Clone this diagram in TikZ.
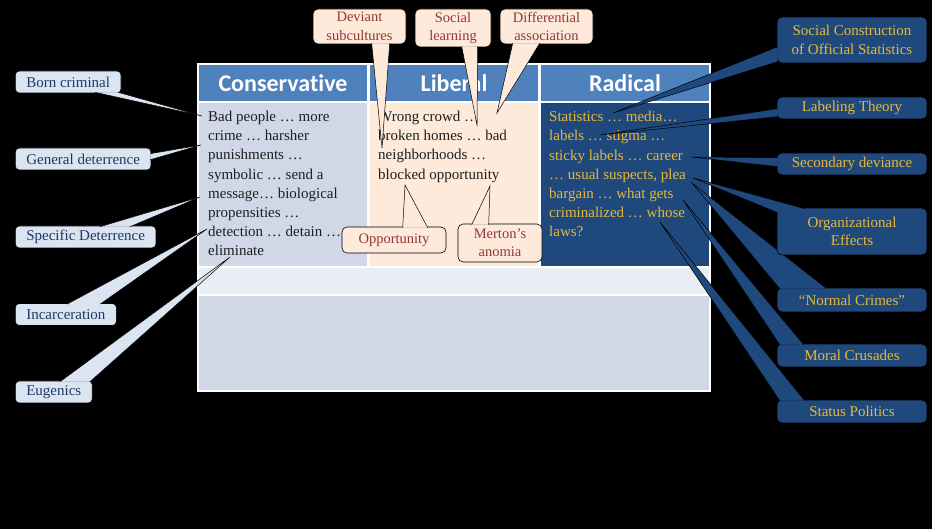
\documentclass[tikz,border=0pt]{standalone}
\usepackage{fontspec}
\setmainfont{Liberation Serif}
\newfontfamily\headfont{Carlito}[Ligatures=NoCommon]
\usetikzlibrary{positioning}

\definecolor{headblue}{RGB}{79,129,189}
\definecolor{consfill}{RGB}{208,216,232}
\definecolor{libfill}{RGB}{253,234,218}
\definecolor{radfill}{RGB}{31,73,125}
\definecolor{midfill}{RGB}{233,237,244}
\definecolor{leftfill}{RGB}{219,229,241}
\definecolor{leftink}{RGB}{31,56,100}
\definecolor{peachink}{RGB}{149,55,53}
\definecolor{goldink}{RGB}{230,184,56}
\definecolor{bodyink}{RGB}{30,30,30}

% callout pointer: base a, base b, tip
\newcommand{\calloutwedge}[4]{\filldraw[wedge, fill=#1] (#2) -- (#4) -- (#3);}

\begin{document}
\begin{tikzpicture}[x=1pt, y=1pt,
        head/.style={rectangle, fill=headblue, text=white, font=\headfont\bfseries\fontsize{24}{28}\selectfont, minimum width=168pt, minimum height=36pt, inner sep=0pt, outer sep=0pt},
        cell/.style={rectangle, minimum width=168pt, minimum height=163pt, inner sep=0pt, outer sep=0pt},
        row/.style={rectangle, minimum width=510pt, inner sep=0pt, outer sep=0pt},
        body/.style={anchor=north west, align=left, inner sep=0pt, font=\fontsize{15}{19.2}\selectfont},
        lcall/.style={rectangle, rounded corners=4pt, draw=black, line width=0.6pt, fill=leftfill, text=leftink, anchor=west, inner xsep=11pt, inner ysep=0pt, minimum height=22pt, font=\fontsize{15}{18}\selectfont},
        pcall/.style={rectangle, rounded corners=5pt, draw=black, line width=0.6pt, fill=libfill, text=peachink, align=center, inner xsep=4pt, inner ysep=1pt, font=\fontsize{14.5}{18.5}\selectfont},
        rcall/.style={rectangle, rounded corners=5pt, draw=black, line width=0.6pt, fill=radfill, text=goldink, align=center, inner sep=2pt, minimum width=150pt, minimum height=22pt, font=\fontsize{15}{18.3}\selectfont},
        wedge/.style={draw=black, line width=0.5pt}]

    \useasboundingbox (0,0) rectangle (932,529);
    \fill[black] (0,0) rectangle (932,529);

    % Table
    \fill[white] (197,137) rectangle (711,466);
    \node (consHead) [head] at (283,446) {Conservative};
    \node (libHead) [head, right=3pt of consHead] {Liberal};
    \node (radHead) [head, right=3pt of libHead] {Radical};

    \node (consCell) [cell, fill=consfill, below=2pt of consHead] {};
    \node (libCell) [cell, fill=libfill, below=2pt of libHead] {};
    \node (radCell) [cell, fill=radfill, below=2pt of radHead] {};
    \node (midRow) [row, fill=midfill, minimum height=26pt, below=2pt of libCell] {};
    \node (lowRow) [row, fill=consfill, minimum height=94pt, below=2pt of midRow] {};

    \node (consText) [body, text=bodyink] at ([xshift=9pt, yshift=-8pt]consCell.north west)
        {Bad people … more\\crime … harsher\\punishments …\\symbolic … send a\\message… biological\\propensities …\\detection … detain …\\eliminate};
    \node (libText) [body, text=bodyink] at ([xshift=8pt, yshift=-8pt]libCell.north west)
        {Wrong crowd …\\broken homes … bad\\neighborhoods …\\blocked opportunity};
    \node (radText) [body, text=goldink] at ([xshift=8pt, yshift=-8pt]radCell.north west)
        {Statistics … media…\\labels … stigma …\\sticky labels … career\\… usual suspects, plea\\bargain … what gets\\criminalized … whose\\laws?};

    % Pointer tips
    \coordinate (tBorn) at (202,413);
    \coordinate (tGen) at (201,384);
    \coordinate (tSpec) at (200,332);
    \coordinate (tInc) at (207,300);
    \coordinate (tEug) at (230,272);
    \coordinate (tDev) at (382,381);
    \coordinate (tSoc) at (477,404);
    \coordinate (tDif) at (497,416);
    \coordinate (tOpp) at (405,344);
    \coordinate (tMer) at (490,343);
    \coordinate (tSocc) at (613,416);
    \coordinate (tLab) at (600,394);
    \coordinate (tSec) at (691,372);
    \coordinate (tOrg) at (693,351);
    \coordinate (tNorm) at (692,346);
    \coordinate (tMoral) at (683,329);
    \coordinate (tStat) at (660,307);

    % Conservative callouts
    \node (born) [lcall] at (15,447) {Born criminal};
    \calloutwedge{leftfill}{[xshift=80pt, yshift=1pt]born.south west}{[xshift=103pt, yshift=1pt]born.south west}{tBorn}
    \node (genDet) [lcall] at (15,370) {General deterrence};
    \calloutwedge{leftfill}{[xshift=-1pt, yshift=-6pt]genDet.north east}{[xshift=-1pt, yshift=-12pt]genDet.north east}{tGen}
    \node (specDet) [lcall] at (15,292) {Specific Deterrence};
    \calloutwedge{leftfill}{[xshift=85pt, yshift=-1pt]specDet.north west}{[xshift=115pt, yshift=-1pt]specDet.north west}{tSpec}
    \node (incar) [lcall] at (15,214.5) {Incarceration};
    \calloutwedge{leftfill}{[xshift=52pt, yshift=-1pt]incar.north west}{[xshift=85pt, yshift=-1pt]incar.north west}{tInc}
    \node (eugen) [lcall] at (15,137) {Eugenics};
    \calloutwedge{leftfill}{[xshift=45pt, yshift=-1pt]eugen.north west}{[xshift=75pt, yshift=-1pt]eugen.north west}{tEug}

    % Liberal callouts
    \node (deviant) [pcall, minimum width=93pt, minimum height=35pt] at (359.5,502.5) {Deviant\\subcultures};
    \calloutwedge{libfill}{[xshift=59pt, yshift=1pt]deviant.south west}{[xshift=77pt, yshift=1pt]deviant.south west}{tDev}
    \node (social) [pcall, minimum width=76pt, minimum height=38pt] at (453,501) {Social\\learning};
    \calloutwedge{libfill}{[xshift=47pt, yshift=1pt]social.south west}{[xshift=63pt, yshift=1pt]social.south west}{tSoc}
    \node (diffAssoc) [pcall, minimum width=93pt, minimum height=35pt] at (546.5,502.5) {Differential\\association};
    \calloutwedge{libfill}{[xshift=13pt, yshift=1pt]diffAssoc.south west}{[xshift=40pt, yshift=1pt]diffAssoc.south west}{tDif}
    \node (opport) [pcall, minimum width=104pt, minimum height=26pt] at (394,289) {Opportunity};
    \calloutwedge{libfill}{[xshift=61pt, yshift=-1pt]opport.north west}{[xshift=86pt, yshift=-1pt]opport.north west}{tOpp}
    \node (merton) [pcall, minimum width=84pt, minimum height=38pt] at (500,286) {Merton’s\\anomia};
    \calloutwedge{libfill}{[xshift=14pt, yshift=-1pt]merton.north west}{[xshift=31pt, yshift=-1pt]merton.north west}{tMer}

    % Radical callouts
    \node (status) [rcall, minimum height=23pt] at (852,117.5) {Status Politics};
    \calloutwedge{radfill}{[xshift=3pt, yshift=-1pt]status.north west}{[xshift=28pt, yshift=-1pt]status.north west}{tStat}
    \node (moral) [rcall, minimum height=23pt] at (852,173.5) {Moral Crusades};
    \calloutwedge{radfill}{[xshift=3pt, yshift=-1pt]moral.north west}{[xshift=27pt, yshift=-1pt]moral.north west}{tMoral}
    \node (normal) [rcall, minimum height=24pt] at (852,229) {“Normal Crimes”};
    \calloutwedge{radfill}{[xshift=3pt, yshift=-1pt]normal.north west}{[xshift=50pt, yshift=-1pt]normal.north west}{tNorm}
    \node (orgEff) [rcall, minimum height=47pt] at (852,297.5) {Organizational\\Effects};
    \calloutwedge{radfill}{[xshift=1pt, yshift=-5pt]orgEff.north west}{[xshift=28pt, yshift=-1pt]orgEff.north west}{tOrg}
    \node (secDev) [rcall] at (852,365) {Secondary deviance};
    \calloutwedge{radfill}{[xshift=1pt, yshift=-5pt]secDev.north west}{[xshift=1pt, yshift=-14pt]secDev.north west}{tSec}
    \node (labeling) [rcall] at (852,421) {Labeling Theory};
    \calloutwedge{radfill}{[xshift=1pt, yshift=-12pt]labeling.north west}{[xshift=1pt, yshift=-20pt]labeling.north west}{tLab}
    \node (socCon) [rcall, minimum height=46pt] at (852,489) {Social Construction\\of Official Statistics};
    \calloutwedge{radfill}{[xshift=1pt, yshift=-30pt]socCon.north west}{[xshift=1pt, yshift=-45pt]socCon.north west}{tSocc}

\end{tikzpicture}
\end{document}
